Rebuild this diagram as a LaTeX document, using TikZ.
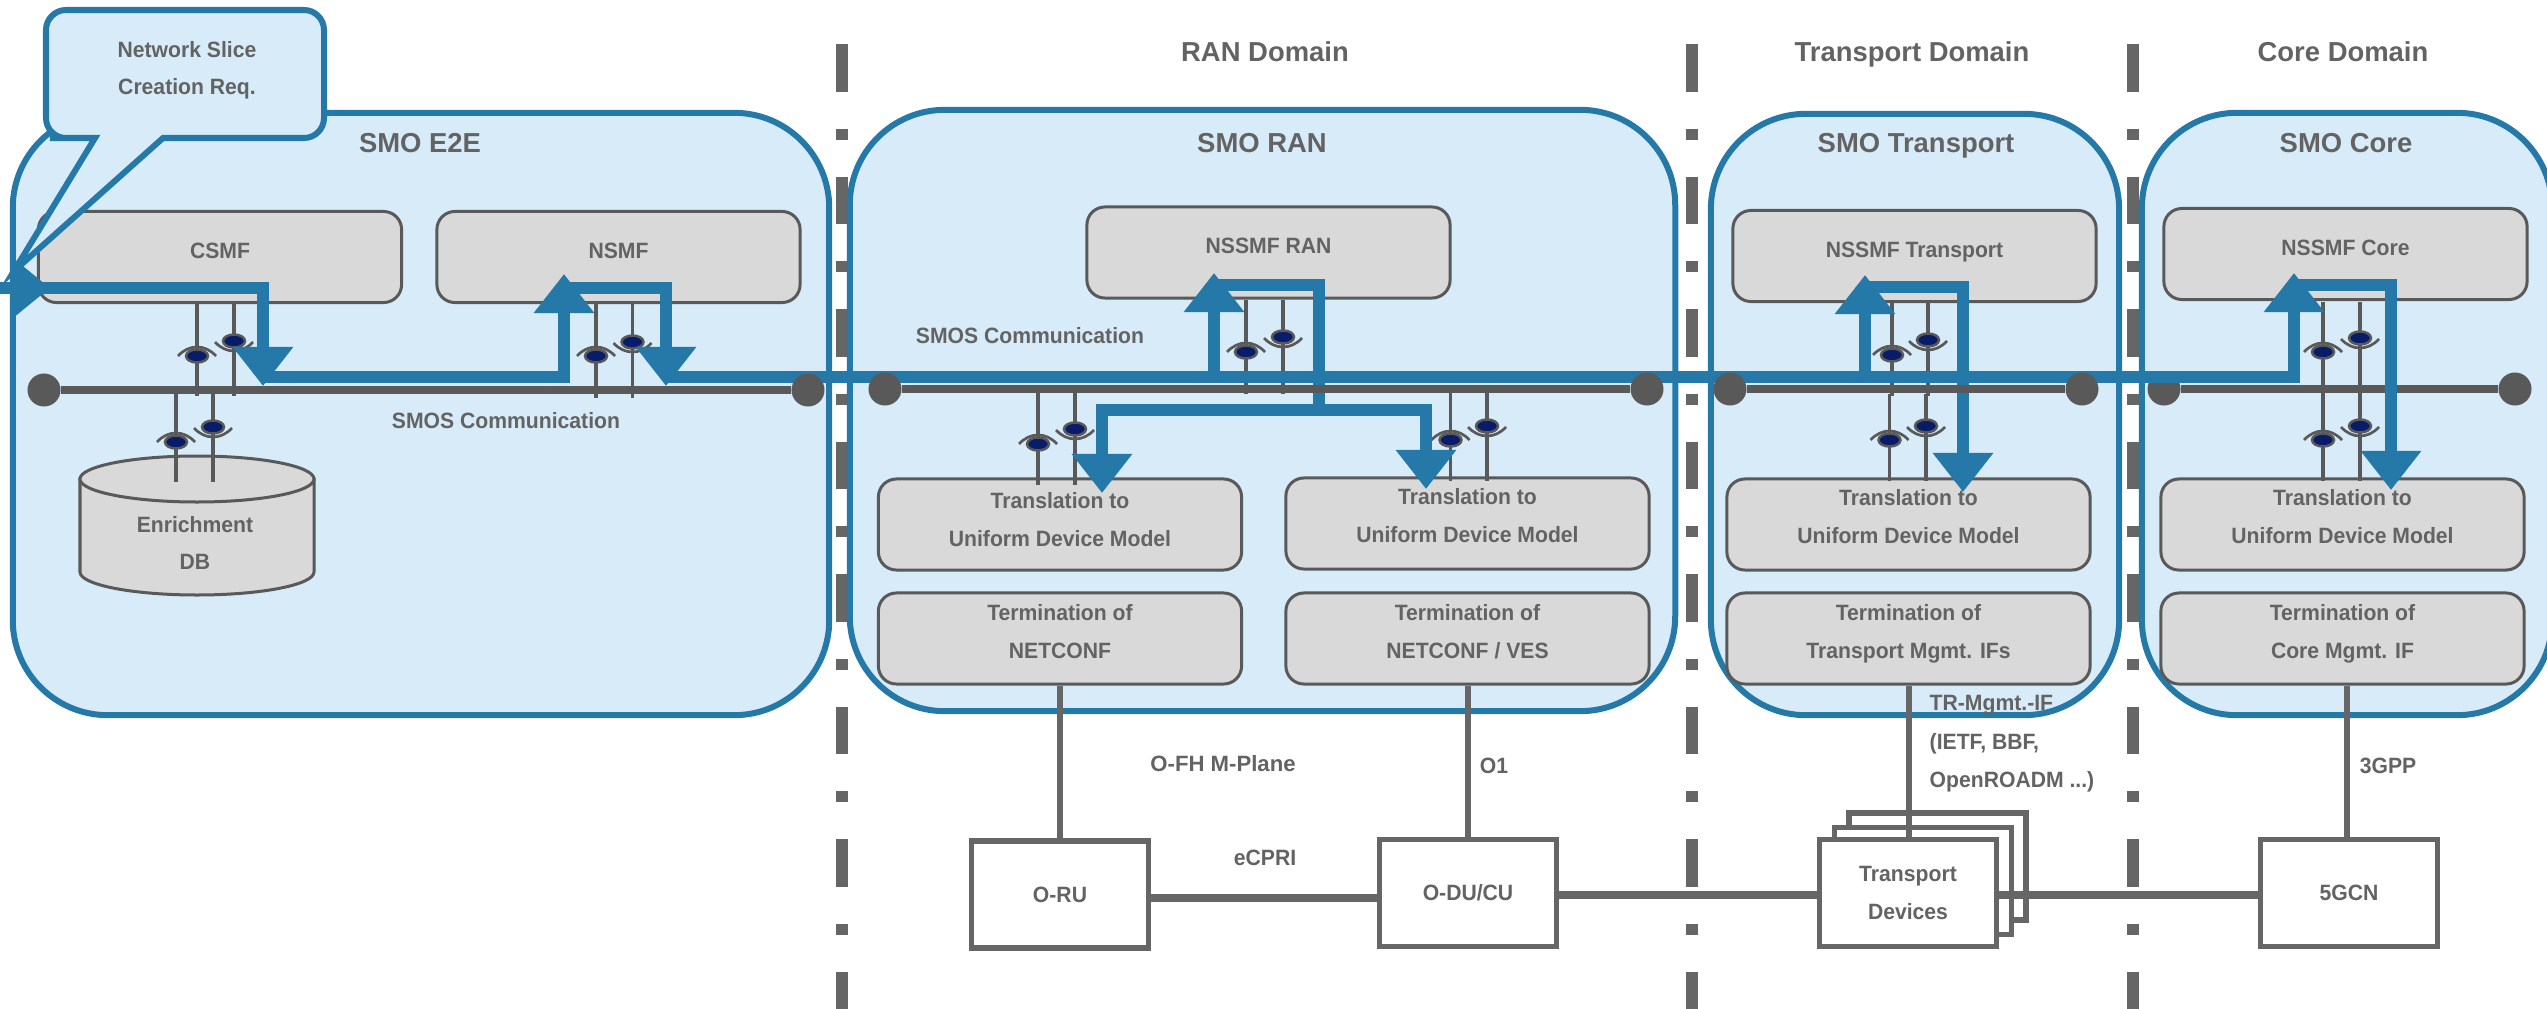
\documentclass[tikz,border=0pt]{standalone}
\usepackage{fontspec}
\setmainfont{Liberation Sans}
\newfontfamily\condfont[FakeStretch=0.955]{Liberation Sans}
\usetikzlibrary{positioning, arrows.meta, calc}
\definecolor{smofill}{RGB}{215,236,248}
\definecolor{smoline}{RGB}{37,121,169}
\definecolor{boxfill}{RGB}{217,217,217}
\definecolor{boxline}{RGB}{89,89,89}
\definecolor{txtgray}{RGB}{99,99,99}
\definecolor{devline}{RGB}{102,102,102}
\definecolor{pupil}{RGB}{8,28,105}

\tikzset{
    smobox/.style={draw=smoline, fill=smofill, line width=0.06cm, rounded corners=0.95cm, inner sep=0pt},
    fnbox/.style={draw=boxline, fill=boxfill, line width=0.03cm, rounded corners=0.18cm, align=center,
        text=txtgray, font=\fontsize{6.3}{10.8}\selectfont\condfont\bfseries, text depth=3.8pt, inner sep=0pt,
        minimum width=3.63cm, minimum height=0.91cm},
    tranbox/.style={fnbox, text depth=4.6pt},
    devbox/.style={draw=devline, fill=white, line width=0.055cm, align=center, text=txtgray,
        minimum width=1.77cm, minimum height=1.065cm, font=\fontsize{6.3}{10.8}\selectfont\condfont\bfseries, inner sep=0pt},
    title/.style={text=txtgray, font=\fontsize{7.8}{9}\selectfont\bfseries, inner sep=0pt, text height=5.6pt, text depth=0pt},
    lbl/.style={text=txtgray, font=\fontsize{6.3}{10.8}\selectfont\condfont\bfseries, inner sep=0pt, text height=4.5pt, text depth=0pt},
    lblblock/.style={text=txtgray, font=\fontsize{6.3}{10.7}\selectfont\condfont\bfseries, inner sep=0pt, align=center},
    busdot/.style={circle, fill=boxline, minimum size=0.33cm, inner sep=0pt},
    bus/.style={draw=boxline, line width=0.08cm},
    tap/.style={draw=boxline, line width=0.033cm},
    link/.style={draw=devline, line width=0.06cm},
    trunk/.style={draw=devline, line width=0.08cm},
    divider/.style={draw=devline, line width=0.12cm, dash pattern=on 0.475cm off 0.37cm on 0.11cm off 0.37cm},
    flow/.style={draw=smoline, line width=0.12cm},
    flowhead/.style={flow, -{Triangle[length=0.39cm, width=0.58cm]}},
}

% pair of monitoring taps: x1, x2, top, bottom, eye y1, eye y2
\newcommand{\eyepair}[6]{
    \draw[tap] (#1,#3) -- (#1,#4);
    \draw[tap] (#2,#3) -- (#2,#4);
    \draw[fill=pupil, draw=boxline, line width=0.025cm] (#1,#5) ellipse (11 and 6.5);
    \draw[fill=pupil, draw=boxline, line width=0.025cm] (#2,#6) ellipse (11 and 6.5);
    \draw[boxline, line width=0.027cm] (#1-19,#5) .. controls (#1-8,#5-12) and (#1+8,#5-12) .. (#1+19,#5);
    \draw[boxline, line width=0.027cm] (#2-19,#6+1) .. controls (#2-8,#6+13) and (#2+8,#6+13) .. (#2+19,#6+1);
}

\begin{document}
\begin{tikzpicture}[x=0.01cm, y=-0.01cm]
    \useasboundingbox (0,0) rectangle (2547,1009);

    % Domain separators
    \coordinate (sepa) at (842,44);
    \coordinate (sepb) at (1692,44);
    \coordinate (sepc) at (2133,44);
    \draw[divider] (sepa) -- (sepa |- 0,1009);
    \draw[divider] (sepb) -- (sepb |- 0,1009);
    \draw[divider] (sepc) -- (sepc |- 0,1009);

    \node[title] (ranlbl) at (1265,52) {RAN Domain};
    \node[title] (trlbl) at (1912,52) {Transport Domain};
    \node[title] (corelbl) at (2343,52) {Core Domain};

    % SMO containers
    \node[smobox, minimum width=8.16cm, minimum height=6.02cm] (smoe) at (421,414) {};
    \node[smobox, minimum width=8.25cm, minimum height=6.01cm] (smor) at (1262.5,410.5) {};
    \node[smobox, minimum width=4.08cm, minimum height=6.01cm] (smot) at (1915,414.5) {};
    \node[smobox, minimum width=4.1cm, minimum height=6.02cm] (smoc) at (2347,414) {};
    \node[title] (smoetxt) at (420,143) {SMO E2E};
    \node[title] (smortxt) at (1262,143) {SMO RAN};
    \node[title] (smottxt) at (1916,143) {SMO Transport};
    \node[title] (smoctxt) at (2346,143) {SMO Core};
    \node[lbl] (smosa) at (506,421) {SMOS Communication};
    \node[lbl] (smosb) at (1030,336) {SMOS Communication};

    % Core bus lies under the flow
    \node[busdot] (busca) at (2164,389) {};
    \node[busdot] (buscb) at (2515,389) {};
    \draw[bus] (busca) -- (buscb);

    % E2E functions
    \node[fnbox] (csmf) at (220,257) {CSMF};
    \node[fnbox] (nsmf) at (618.5,257) {NSMF};

    % Enrichment DB
    \draw[draw=boxline, fill=boxfill, line width=0.03cm] (80,479) -- (80,572)
        arc[start angle=180, end angle=0, x radius=117, y radius=23] -- (314,479) -- cycle;
    \draw[draw=boxline, fill=boxfill, line width=0.03cm] (197,479) ellipse (117 and 23);
    \node[lblblock] (dbtxt) at (195,543) {Enrichment\\DB};

    % RAN functions
    \node[fnbox] (nssmfr) at (1268.5,252.5) {NSSMF RAN};
    \node[fnbox, text depth=2.9pt] (tranl) at (1060,524.5) {Translation to\\Uniform Device Model};
    \node[tranbox] (tranr) at (1467.5,523.5) {Translation to\\Uniform Device Model};
    \node[fnbox] (terml) at (1060,638.5) {Termination of\\NETCONF};
    \node[fnbox] (termr) at (1467.5,638.5) {Termination of\\NETCONF / VES};

    % Transport functions
    \node[fnbox] (nssmft) at (1914.5,256) {NSSMF Transport};
    \node[tranbox] (trant) at (1908.5,524.5) {Translation to\\Uniform Device Model};
    \node[fnbox] (termt) at (1908.5,638.5) {Termination of\\Transport Mgmt. IFs};

    % Core functions
    \node[fnbox] (nssmfc) at (2345.5,254) {NSSMF Core};
    \node[tranbox] (tranc) at (2342.5,524.5) {Translation to\\Uniform Device Model};
    \node[fnbox] (termc) at (2342.5,638.5) {Termination of\\Core Mgmt. IF};

    % Monitoring taps
    \eyepair{197}{234}{303}{396}{356}{341}
    \eyepair{176}{213}{394}{482}{442}{427}
    \eyepair{596}{632.5}{304}{398}{356}{342}
    \eyepair{1246}{1283}{300}{394}{352}{337}
    \eyepair{1038}{1075}{392}{485}{444}{429}
    \eyepair{1450.5}{1487}{392}{481}{440}{426}
    \eyepair{1892}{1928}{303}{396}{355}{340}
    \eyepair{1889.5}{1926}{394}{481}{440}{426}
    \eyepair{2323}{2360}{302}{394}{352}{338}
    \eyepair{2323}{2360}{394}{481}{440}{426}

    % Devices
    \node[devbox] (tdevc) at (1937.5,866.5) {};
    \node[devbox] (tdevb) at (1923,881) {};
    \node[devbox] (oru) at (1060,894.5) {O-RU};
    \node[devbox] (odu) at (1468,893) {O-DU/CU};
    \node[devbox, align=center] (tdeva) at (1908,893) {Transport\\Devices};
    \node[devbox] (gcn) at (2349,893) {5GCN};

    % Device links
    \draw[link] (terml.south) -- (terml.south |- oru.north);
    \draw[link] (termr.south) -- (termr.south |- odu.north);
    \draw[link] (termt.south) -- (termt.south |- tdeva.north);
    \draw[link] (gcn.north |- termc.south) ++(-2,0) -- ($(gcn.north)+(-2,0)$);
    \draw[trunk] ([yshift=-0.03cm]oru.east) -- ([yshift=-0.03cm]oru.east -| odu.west);
    \draw[trunk] ([yshift=-0.02cm]odu.east) -- ([yshift=-0.02cm]tdeva.west);
    \draw[trunk] ([yshift=-0.02cm]tdeva.east) -- ([yshift=-0.02cm]gcn.west);
    \node[lbl, font=\fontsize{6.3}{10.8}\selectfont\bfseries] (ofh) at (1223,764) {O-FH M-Plane};
    \node[lbl] (oone) at (1494,766) {O1};
    \node[lbl] (ecpri) at (1265,858) {eCPRI};
    \node[lbl] (tgpp) at (2388,766) {3GPP};
    \node[lbl, anchor=west] (trif) at (1929,703) {TR-Mgmt.-IF};
    \node[lbl, anchor=west] (trifb) at (1929,742) {(IETF, BBF,};
    \node[lbl, anchor=west] (trifc) at (1929,780) {OpenROADM ...)};

    % Request callout
    \draw[smoline, fill=smofill, line width=0.06cm] (163,138)
        [rounded corners=0.2cm] -- (324,138) -- (324,10) -- (46,10) -- (46,138) -- (70,138)
        [sharp corners] -- (95,138) -- (14,271) -- cycle;
    \node[lblblock, font=\fontsize{6.3}{10.4}\selectfont\condfont\bfseries] (sliceq) at (187,70) {Network Slice\\Creation Req.};

    % Way points of the request flow
    \coordinate (reqin) at (0,288);
    \coordinate (reqtip) at (50,288);
    \coordinate (reqout) at (20,288);
    \coordinate (csmfa) at (263,288);
    \coordinate (csmfb) at (263,386);
    \coordinate (csmfc) at (263,377);
    \coordinate (nsmfa) at (564,377);
    \coordinate (nsmfb) at (564,274);
    \coordinate (nsmfc) at (564,288);
    \coordinate (nsmfd) at (666,288);
    \coordinate (nsmfe) at (666,386);
    \coordinate (nsmff) at (666,377);
    \coordinate (rana) at (1214,377);
    \coordinate (ranb) at (1214,273);
    \coordinate (ranc) at (1214,285);
    \coordinate (rand) at (1319,285);
    \coordinate (rane) at (1319,416);
    \coordinate (ranf) at (1319,410);
    \coordinate (rang) at (1102,410);
    \coordinate (ranh) at (1102,493);
    \coordinate (rani) at (1426,410);
    \coordinate (ranj) at (1426,489);
    \coordinate (tra) at (1865,377);
    \coordinate (trb) at (1865,275);
    \coordinate (trc) at (1865,287);
    \coordinate (trd) at (1963,287);
    \coordinate (tre) at (1963,492);
    \coordinate (cora) at (2294,377);
    \coordinate (corb) at (2294,273);
    \coordinate (corc) at (2294,285);
    \coordinate (cord) at (2391,285);
    \coordinate (core) at (2391,490);

    % Request flow
    \draw[flow, -{Triangle[length=0.36cm, width=0.56cm]}] (reqin) -- (reqtip);
    \draw[flowhead] (reqout) -- (csmfa) -- (csmfb);
    \draw[flowhead] (csmfc) -- (nsmfa) -- (nsmfb);
    \draw[flowhead] (nsmfc) -- (nsmfd) -- (nsmfe);
    \draw[flowhead] (nsmff) -- (cora) -- (corb);
    \draw[flowhead] (rana) -- (ranb);
    \draw[flow] (ranc) -- (rand) -- (rane);
    \draw[flowhead] (ranf) -- (rang) -- (ranh);
    \draw[flowhead] (ranf) -- (rani) -- (ranj);
    \draw[flowhead] (tra) -- (trb);
    \draw[flowhead] (trc) -- (trd) -- (tre);
    \draw[flowhead] (corc) -- (cord) -- (core);

    % Other buses lie over the flow
    \node[busdot] (busea) at (44,390) {};
    \node[busdot] (buseb) at (808,390) {};
    \node[busdot] (busra) at (885,389) {};
    \node[busdot] (busrb) at (1647,389) {};
    \node[busdot] (busta) at (1730,389) {};
    \node[busdot] (bustb) at (2082,389) {};
    \draw[bus] (busea) -- (buseb);
    \draw[bus] (busra) -- (busrb);
    \draw[bus] (busta) -- (bustb);
\end{tikzpicture}
\end{document}
